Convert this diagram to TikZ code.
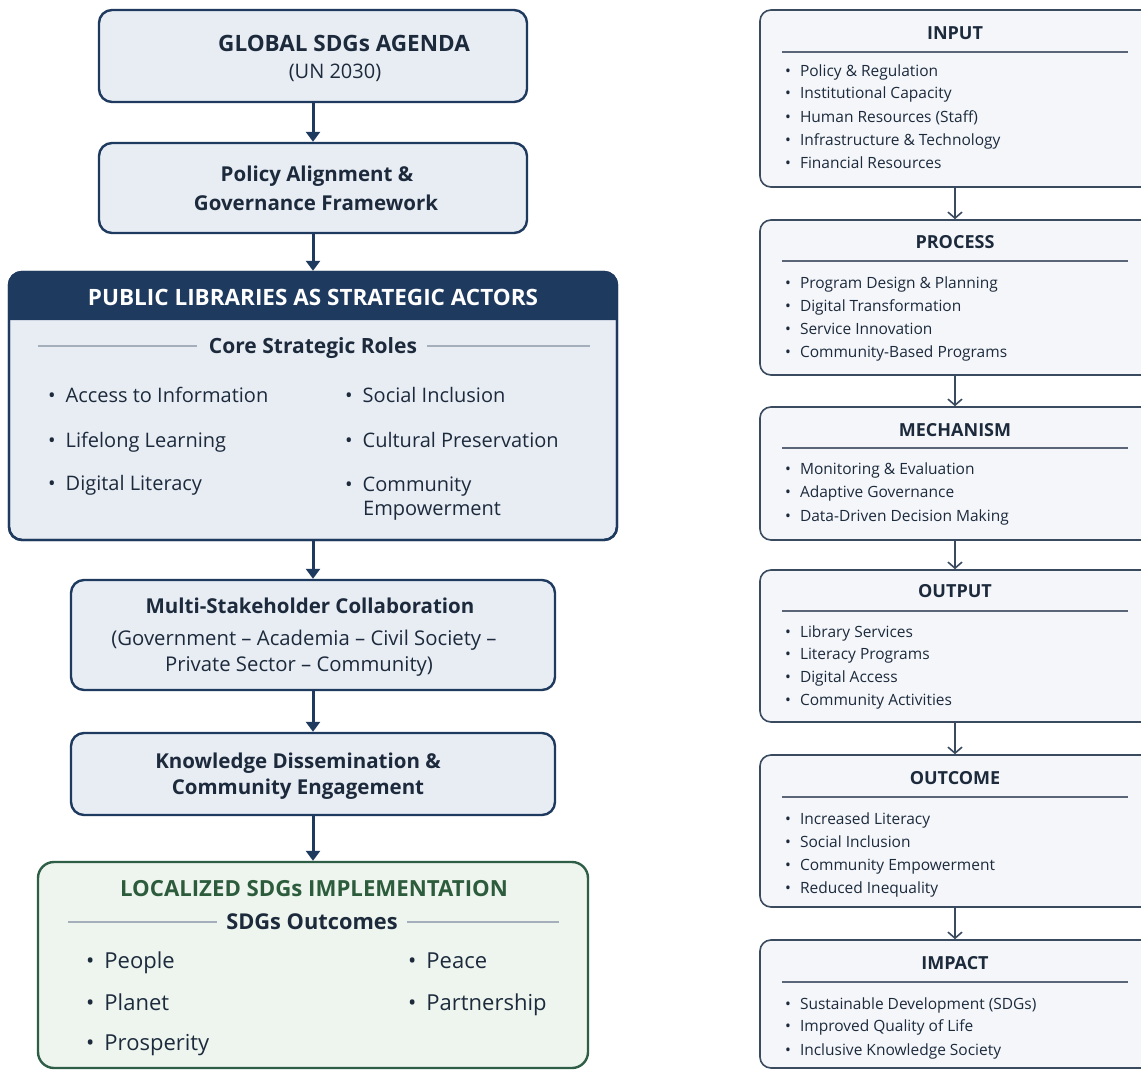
\documentclass[tikz,border=0pt]{standalone}
\usepackage{fontspec}
\setmainfont{Open Sans}
\usetikzlibrary{arrows.meta}
\definecolor{navy}{HTML}{1F3A5F}
\definecolor{ink}{HTML}{1C2A3C}
\definecolor{lfill}{HTML}{E8EDF4}
\definecolor{rfill}{HTML}{F4F6F9}
\definecolor{rborder}{HTML}{3A4A5F}
\definecolor{gborder}{HTML}{2F5E47}
\definecolor{gfill}{HTML}{EEF5EF}
\definecolor{gtext}{HTML}{2C5C3C}
\definecolor{grule}{HTML}{A5AFBB}
\definecolor{rrule}{HTML}{5A6678}
\newcommand\lbul{\textbullet\hspace{10pt}}
\newcommand\rbul{\textbullet\hspace{9pt}}
\begin{document}
\begin{tikzpicture}[x=1pt,y=-1pt,
  every node/.style={text=ink},
  lbox/.style={draw=navy,line width=2.4pt,fill=lfill,rounded corners=13pt,inner sep=0pt},
  gbox/.style={draw=gborder,line width=2.4pt,fill=gfill,rounded corners=16pt,inner sep=0pt},
  rbox/.style={draw=rborder,line width=1.6pt,fill=rfill,rounded corners=11pt,inner sep=0pt},
  ttl/.style={font=\fontsize{20.5}{24}\selectfont\bfseries,inner sep=0pt,anchor=base},
  capttl/.style={font=\fontsize{22.5}{26}\selectfont\bfseries,inner sep=0pt,anchor=base},
  sub/.style={font=\fontsize{20}{24}\selectfont,inner sep=0pt,anchor=base},
  litem/.style={font=\fontsize{20}{24}\selectfont,inner sep=0pt,anchor=base west},
  gitem/.style={font=\fontsize{22}{26}\selectfont,inner sep=0pt,anchor=base west},
  rttl/.style={font=\fontsize{18}{21}\selectfont\bfseries,inner sep=0pt,anchor=base},
  ritem/.style={font=\fontsize{15.5}{18}\selectfont,inner sep=0pt,anchor=base west},
  grl/.style={draw=grule,line width=1.2pt},
  rrl/.style={draw=rrule,line width=1.2pt},
  larrow/.style={draw=navy,line width=3pt,-{Triangle[length=10pt,width=14pt]}},
  rarrow/.style={draw=rborder,line width=1.6pt,-{Straight Barb[length=6pt,width=14pt]}}
]
\useasboundingbox (0,0) rectangle (1141,1070);
\fill[white] (0,0) rectangle (1141,1070);
\clip (0,0) rectangle (1141,1070);

% ---------- left column ----------
\node[lbox,minimum width=428pt,minimum height=92pt] (b1) at (313,56) {};
\node[capttl] (b1t) at (344,52) {GLOBAL SDGs AGENDA};
\node[sub] (b1s) at (335,79) {(UN 2030)};

\node[lbox,minimum width=428pt,minimum height=90pt] (b2) at (313,188) {};
\node[ttl] (b2t1) at (317,182) {Policy Alignment \&};
\node[ttl] (b2t2) at (316,210) {Governance Framework};

\node[lbox,minimum width=608pt,minimum height=268pt] (b3) at (313,406) {};
\fill[navy] (9,320) [rounded corners=13pt]-- (9,272) -- (617,272) [sharp corners]-- (617,320) -- cycle;
\node[lbox,fill=none,minimum width=608pt,minimum height=268pt] (b3f) at (313,406) {};
\node[capttl,text=white] (b3h) at (313,305) {PUBLIC LIBRARIES AS STRATEGIC ACTORS};
\node[ttl,font=\fontsize{21}{25}\selectfont\bfseries] (b3c) at (313,353) {Core Strategic Roles};
\draw[grl] (38,346) -- (197,346);
\draw[grl] (427,346) -- (590,346);
\node[litem] (r1) at (48,402) {\lbul Access to Information};
\node[litem] (r2) at (48,447) {\lbul Lifelong Learning};
\node[litem] (r3) at (48,490) {\lbul Digital Literacy};
\node[litem] (r4) at (345,402) {\lbul Social Inclusion};
\node[litem] (r5) at (345,447) {\lbul Cultural Preservation};
\node[litem] (r6) at (345,491) {\lbul Community};
\node[litem] (r7) at (363,515) {Empowerment};

\node[lbox,minimum width=484pt,minimum height=110pt] (b4) at (313,635) {};
\node[ttl] (b4t) at (310,613) {Multi-Stakeholder Collaboration};
\node[sub,font=\fontsize{20.3}{24}\selectfont] (b4s1) at (304,645) {(Government -- Academia -- Civil Society --};
\node[sub,font=\fontsize{20.3}{24}\selectfont] (b4s2) at (299,671) {Private Sector -- Community)};

\node[lbox,minimum width=484pt,minimum height=82pt] (b5) at (313,774) {};
\node[ttl] (b5t1) at (298,768) {Knowledge Dissemination \&};
\node[ttl] (b5t2) at (298,794) {Community Engagement};

\node[gbox,minimum width=550pt,minimum height=206pt] (b6) at (313,965) {};
\node[capttl,text=gtext,font=\fontsize{22.2}{26}\selectfont\bfseries] (b6t) at (314,896) {LOCALIZED SDGs IMPLEMENTATION};
\node[ttl,font=\fontsize{21.8}{25}\selectfont\bfseries] (b6s) at (312,929) {SDGs Outcomes};
\draw[grl] (68,922) -- (217,922);
\draw[grl] (407,922) -- (559,922);
\node[gitem] (g1) at (86,968) {\lbul People};
\node[gitem] (g2) at (86,1010) {\lbul Planet};
\node[gitem] (g3) at (86,1050) {\lbul Prosperity};
\node[gitem] (g4) at (408,968) {\lbul Peace};
\node[gitem] (g5) at (408,1010) {\lbul Partnership};

\draw[larrow] (b1.south) -- (b2.north);
\draw[larrow] (b2.south) -- (b3.north);
\draw[larrow] (b3.south) -- (b4.north);
\draw[larrow] (b4.south) -- (b5.north);
\draw[larrow] (b5.south) -- (b6.north);

% ---------- right column ----------
\node[rbox,minimum width=392pt,minimum height=177pt] (i1) at (956,98.5) {};
\node[rttl] at (955,39.5) {INPUT};
\draw[rrl] (782,52) -- (1128,52);
\node[ritem] at (785,77) {\rbul Policy \& Regulation};
\node[ritem] at (785,99) {\rbul Institutional Capacity};
\node[ritem] at (785,122.5) {\rbul Human Resources (Staff)};
\node[ritem] at (785,145.5) {\rbul Infrastructure \& Technology};
\node[ritem] at (785,168.5) {\rbul Financial Resources};

\node[rbox,minimum width=392pt,minimum height=155pt] (i2) at (956,297.5) {};
\node[rttl] at (955,248.5) {PROCESS};
\draw[rrl] (782,261) -- (1128,261);
\node[ritem] at (785,288.5) {\rbul Program Design \& Planning};
\node[ritem] at (785,311.5) {\rbul Digital Transformation};
\node[ritem] at (785,334.5) {\rbul Service Innovation};
\node[ritem] at (785,357.5) {\rbul Community-Based Programs};

\node[rbox,minimum width=392pt,minimum height=133pt] (i3) at (956,473.5) {};
\node[rttl] at (955,436.5) {MECHANISM};
\draw[rrl] (782,448) -- (1128,448);
\node[ritem] at (785,474.5) {\rbul Monitoring \& Evaluation};
\node[ritem] at (785,497.5) {\rbul Adaptive Governance};
\node[ritem] at (785,521.5) {\rbul Data-Driven Decision Making};

\node[rbox,minimum width=392pt,minimum height=152pt] (i4) at (956,646) {};
\node[rttl] at (955,597.5) {OUTPUT};
\draw[rrl] (782,611) -- (1128,611);
\node[ritem] at (785,637.5) {\rbul Library Services};
\node[ritem] at (785,659.5) {\rbul Literacy Programs};
\node[ritem] at (785,682.5) {\rbul Digital Access};
\node[ritem] at (785,705.5) {\rbul Community Activities};

\node[rbox,minimum width=392pt,minimum height=152pt] (i5) at (956,831) {};
\node[rttl] at (955,784.5) {OUTCOME};
\draw[rrl] (782,797) -- (1128,797);
\node[ritem] at (785,824.5) {\rbul Increased Literacy};
\node[ritem] at (785,847.5) {\rbul Social Inclusion};
\node[ritem] at (785,870.5) {\rbul Community Empowerment};
\node[ritem] at (785,893.5) {\rbul Reduced Inequality};

\node[rbox,minimum width=392pt,minimum height=128pt] (i6) at (956,1004) {};
\node[rttl] at (955,969.5) {IMPACT};
\draw[rrl] (782,982) -- (1128,982);
\node[ritem] at (785,1009.5) {\rbul Sustainable Development (SDGs)};
\node[ritem] at (785,1031.5) {\rbul Improved Quality of Life};
\node[ritem] at (785,1055.5) {\rbul Inclusive Knowledge Society};

\draw[rarrow] (i1.south -| 955,0) -- (i2.north -| 955,0);
\draw[rarrow] (i2.south -| 955,0) -- (i3.north -| 955,0);
\draw[rarrow] (i3.south -| 955,0) -- (i4.north -| 955,0);
\draw[rarrow] (i4.south -| 955,0) -- (i5.north -| 955,0);
\draw[rarrow] (i5.south -| 955,0) -- (i6.north -| 955,0);
\end{tikzpicture}
\end{document}
